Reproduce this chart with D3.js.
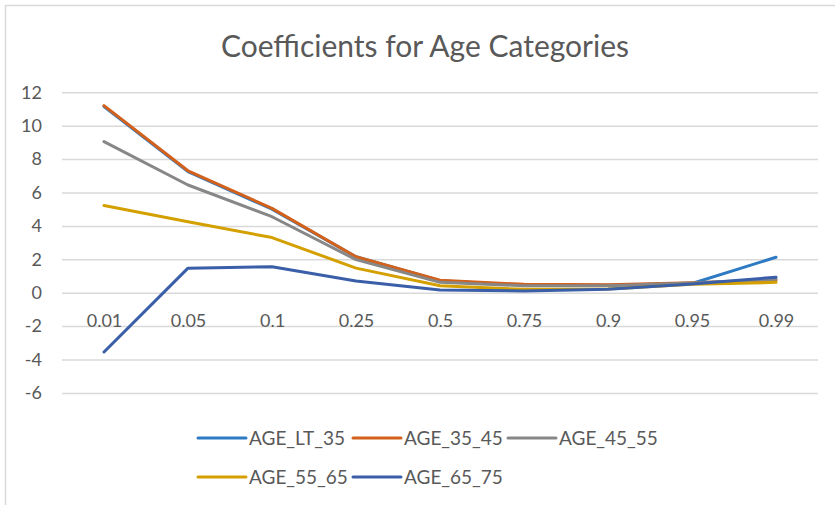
<!DOCTYPE html>
<html>
<head>
<meta charset="utf-8">
<script src="https://cdn.jsdelivr.net/npm/d3@7"></script>
<style>
  body { margin: 0; background: #fff; }
  text { font-family: Lato, "Open Sans", sans-serif; fill: #595959; }
</style>
</head>
<body>
<div id="chart"></div>
<script>
// Quantiles on the x axis
var quantiles = ["0.01", "0.05", "0.1", "0.25", "0.5", "0.75", "0.9", "0.95", "0.99"];

// Coefficients per age group
var ageLt35 = [11.15, 7.25, 5.0, 2.15, 0.72, 0.45, 0.45, 0.55, 2.12];
var age35to45 = [11.2, 7.3, 5.05, 2.15, 0.75, 0.5, 0.48, 0.6, 0.75];
var age45to55 = [9.05, 6.45, 4.55, 1.98, 0.62, 0.42, 0.42, 0.58, 0.8];
var age55to65 = [5.22, 4.25, 3.3, 1.47, 0.42, 0.2, 0.22, 0.5, 0.62];
var age65to75 = [-3.55, 1.47, 1.56, 0.7, 0.16, 0.1, 0.2, 0.52, 0.93];

var seriesNames = ["AGE_LT_35", "AGE_35_45", "AGE_45_55", "AGE_55_65", "AGE_65_75"];
var yTicks = [12, 10, 8, 6, 4, 2, 0, -2, -4, -6];

var series = [
    { name: seriesNames[0], values: ageLt35, color: "#2e7bc4" },
    { name: seriesNames[1], values: age35to45, color: "#d2611c" },
    { name: seriesNames[2], values: age45to55, color: "#878787" },
    { name: seriesNames[3], values: age55to65, color: "#d4a000" },
    { name: seriesNames[4], values: age65to75, color: "#3a5fa8" }
];

//Define SVG area
var svgWidth = 835;
var svgHeight = 505;

//Plot area
var plot = { left: 62, right: 818, top: 92.3, bottom: 392.9 };

var svg = d3.select("#chart")
    .append("svg")
    .attr("width", svgWidth)
    .attr("height", svgHeight);

// Chart frame
svg.append("rect")
    .attr("x", 5.5)
    .attr("y", 5.5)
    .attr("width", 850)
    .attr("height", 520)
    .attr("fill", "#fff")
    .attr("stroke", "#d9d9d9")
    .attr("stroke-width", 1.5);

//Create scales
var xScale = d3.scalePoint()
    .domain(quantiles)
    .range([plot.left, plot.right])
    .padding(0.5);

var yScale = d3.scaleLinear()
    .domain([-6, 12])
    .range([plot.bottom, plot.top]);

// Title
svg.append("text")
    .attr("x", 425)
    .attr("y", 57)
    .attr("text-anchor", "middle")
    .style("font-size", "30px")
    .text("Coefficients for Age Categories");

// Gridlines and y labels (plain hyphen for negatives, like the original)
var yAxis = d3.axisLeft(yScale)
    .tickValues(yTicks)
    .tickFormat(d => String(d))
    .tickSize(-(plot.right - plot.left))
    .tickPadding(20);

var yAxisGroup = svg.append("g")
    .attr("transform", `translate(${plot.left}, 0)`)
    .call(yAxis);

yAxisGroup.select(".domain").remove();
yAxisGroup.selectAll("line")
    .attr("stroke", "#d9d9d9")
    .attr("stroke-width", 1.5);
yAxisGroup.selectAll("text")
    .attr("fill", "#595959")
    .style("font-size", "18px")
    .style("font-family", "Lato, sans-serif");

// Category labels sit just under the zero line
var xAxis = d3.axisBottom(xScale)
    .tickSize(0)
    .tickPadding(22);

var xAxisGroup = svg.append("g")
    .attr("transform", `translate(0, ${yScale(0)})`)
    .call(xAxis);

xAxisGroup.select(".domain").remove();
xAxisGroup.selectAll("text")
    .attr("fill", "#595959")
    .style("font-size", "18px")
    .style("font-family", "Lato, sans-serif");

// Lines
var line = d3.line()
    .x((d, i) => xScale(quantiles[i]))
    .y(d => yScale(d));

svg.append("g")
    .selectAll("path")
    .data(series)
    .enter()
    .append("path")
    .attr("d", d => line(d.values))
    .attr("fill", "none")
    .attr("stroke", d => d.color)
    .attr("stroke-width", 3)
    .attr("stroke-linejoin", "round")
    .attr("stroke-linecap", "round");

// Legend, three per row
var legend = svg.append("g")
    .selectAll("g")
    .data(series)
    .enter()
    .append("g")
    .attr("transform", (d, i) => `translate(${198 + (i % 3) * 155}, ${438 + Math.floor(i / 3) * 39})`);

legend.append("line")
    .attr("x1", 0)
    .attr("x2", 48)
    .attr("stroke", d => d.color)
    .attr("stroke-width", 3)
    .attr("stroke-linecap", "round");

legend.append("text")
    .attr("x", 51)
    .attr("dy", "0.35em")
    .style("font-size", "19px")
    .text(d => d.name);
</script>
</body>
</html>
